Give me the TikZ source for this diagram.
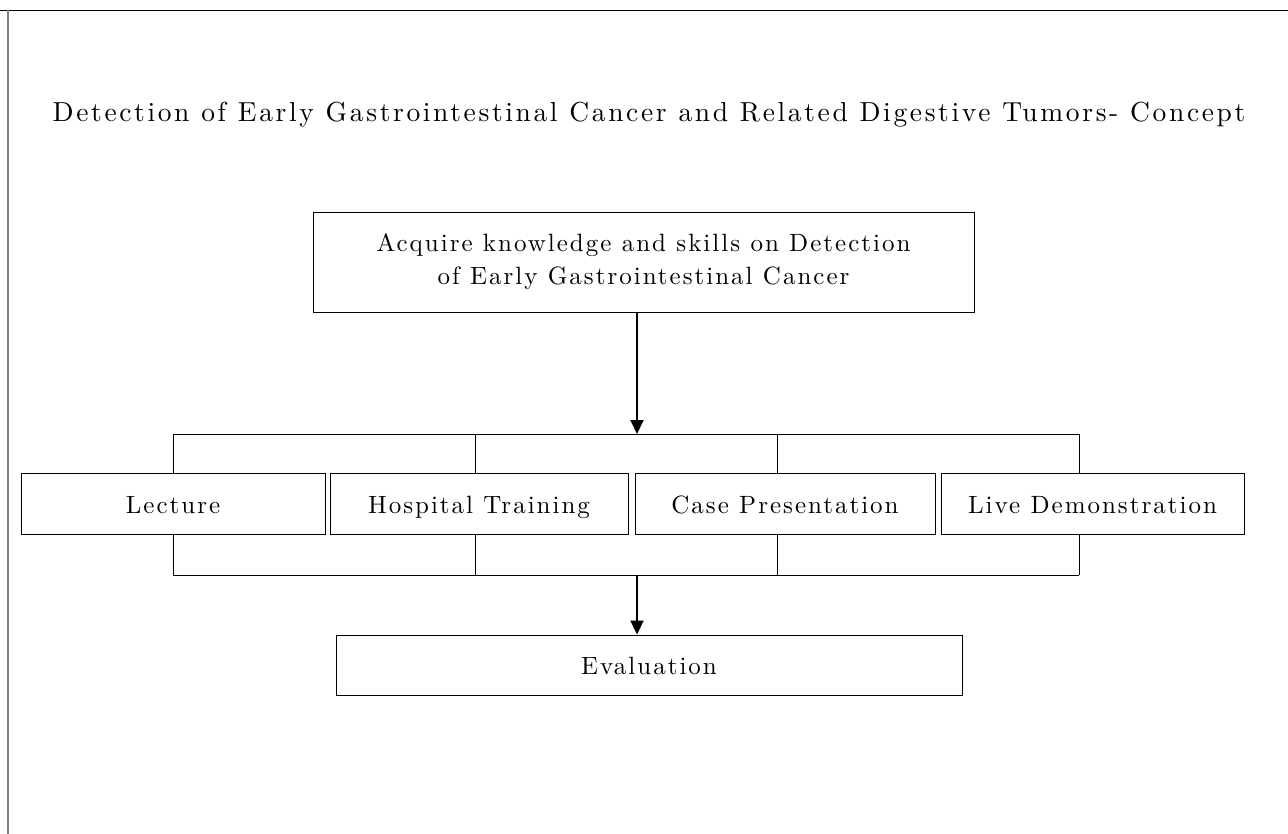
\documentclass[tikz,border=0pt]{standalone}
\usepackage{fontspec}
\newfontfamily\titlefont{lmroman10-regular}[Extension=.otf, LetterSpace=9.6]
\newfontfamily\spaced{lmroman10-regular}[Extension=.otf, LetterSpace=8]
\usetikzlibrary{arrows.meta}
\tikzset{
  box/.style={draw=black, line width=0.9pt, minimum height=61pt, inner sep=0pt, text height=22pt, text depth=3pt, font=\spaced\fontsize{25}{29}\selectfont},
  link/.style={draw=black, line width=0.9pt},
  flow/.style={draw=black, line width=2pt, -{Triangle[length=14pt, width=13pt]}},
}
\begin{document}
\begin{tikzpicture}[x=1pt, y=-1pt]
\useasboundingbox (0,0) rectangle (1288,834);
% frame
\draw[black, line width=0.8pt] (0,10) -- (1288,10);
\draw[gray, line width=2pt] (8,10) -- (8,834);
% title
\node[anchor=base, inner sep=0pt, font=\titlefont\fontsize{27.5}{32}\selectfont] (title) at (649,122)
  {Detection of Early Gastrointestinal Cancer and Related Digestive Tumors- Concept};
% top box
\node[draw=black, line width=0.9pt, inner sep=0pt, minimum width=661pt, minimum height=100pt, align=center, font=\spaced\fontsize{25}{33}\selectfont] (top) at (643.5,262)
  {Acquire knowledge and skills on Detection\\of Early Gastrointestinal Cancer};
% four boxes
\node[box, minimum width=304pt] (lec) at (173,503.5) {Lecture};
\node[box, minimum width=298pt] (hosp) at (479,503.5) {Hospital Training};
\node[box, minimum width=300pt] (case) at (785,503.5) {Case Presentation};
\node[box, minimum width=303pt] (live) at (1092.5,503.5) {Live Demonstration};
% evaluation
\node[box, minimum width=626pt, minimum height=60pt] (eval) at (649,665) {Evaluation};
% bracket coordinates
\coordinate (t1) at (173,434);
\coordinate (t2) at (475,434);
\coordinate (t3) at (777,434);
\coordinate (t4) at (1079,434);
\coordinate (b1) at (173,575);
\coordinate (b2) at (475,575);
\coordinate (b3) at (777,575);
\coordinate (b4) at (1079,575);
\coordinate (tin) at (637,434);
\coordinate (bout) at (637,575);
\draw[link] (t1) -- (t4);
\draw[link] (t1) -- (t1 |- lec.north);
\draw[link] (t2) -- (t2 |- hosp.north);
\draw[link] (t3) -- (t3 |- case.north);
\draw[link] (t4) -- (t4 |- live.north);
\draw[link] (b1) -- (b4);
\draw[link] (b1) -- (b1 |- lec.south);
\draw[link] (b2) -- (b2 |- hosp.south);
\draw[link] (b3) -- (b3 |- case.south);
\draw[link] (b4) -- (b4 |- live.south);
% arrows
\draw[flow] (tin |- top.south) -- (tin);
\draw[flow] (bout) -- (bout |- eval.north);
\end{tikzpicture}
\end{document}
